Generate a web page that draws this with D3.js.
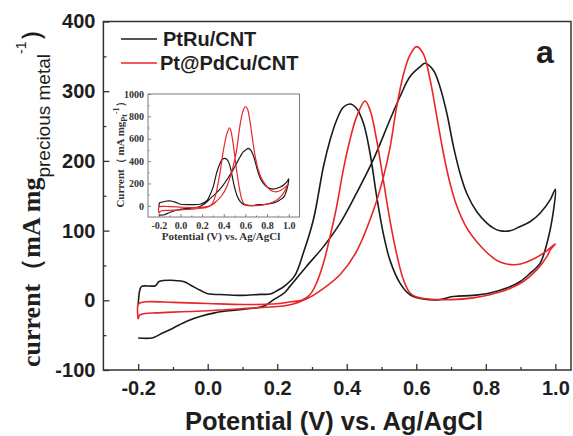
<!DOCTYPE html>
<html>
<head>
<meta charset="utf-8">
<script src="https://cdn.jsdelivr.net/npm/d3@7/dist/d3.min.js"></script>
<style>
html,body{margin:0;padding:0;background:#fff;}
svg{display:block;}
</style>
</head>
<body>
<svg id="chart" width="573" height="436"></svg>
<script>
// ---------------- DATA ----------------
const seriesNames = ["PtRu/CNT", "Pt@PdCu/CNT"];
const mainXTicks = [-0.2, 0.0, 0.2, 0.4, 0.6, 0.8, 1.0];
const mainYTicks = [-100, 0, 100, 200, 300, 400];
const insetXTicks = [-0.2, 0.0, 0.2, 0.4, 0.6, 0.8, 1.0];
const insetYTicks = [0, 200, 400, 600, 800, 1000];

// Main panel: current (mA mg_precious metal^-1) vs potential (V)
const ptruForward = [[-0.2,-54],[-0.16,-54],[-0.13,-47],[-0.1,-40],[-0.06,-30],[-0.02,-23],[0.02,-18],[0.06,-15],[0.11,-12.5],[0.16,-8.7],[0.19,1],[0.22,10.5],[0.2365,20],[0.25,28],[0.284,48.6],[0.333,77],[0.381,110.7],[0.428,153.6],[0.476,201.4],[0.524,258.7],[0.553,292],[0.582,321],[0.611,335],[0.625,340],[0.649,330],[0.668,306.5],[0.688,268],[0.707,220.5],[0.726,182],[0.745,153.6],[0.774,127],[0.803,110.7],[0.822,103.5],[0.841,99.7],[0.87,99.7],[0.899,106],[0.928,113],[0.956,125],[0.985,144],[1.0,159.4]];
const ptruBackward = [[1.0,159.4],[0.995,130],[0.976,82],[0.956,53],[0.928,39],[0.899,27],[0.86,17.5],[0.812,10.4],[0.764,7],[0.72,6],[0.7,5],[0.668,1],[0.62,2],[0.582,8],[0.553,24.7],[0.524,58],[0.505,96],[0.486,149],[0.467,211],[0.448,254],[0.428,275.5],[0.409,281.7],[0.39,277],[0.371,258.7],[0.352,230],[0.333,192],[0.304,115.5],[0.275,67.7],[0.25,35],[0.22,20],[0.2,14],[0.18,9],[0.15,8.5],[0.1,7],[0.05,8],[0.0,9.5],[-0.02,14],[-0.05,22],[-0.07,27],[-0.14,27],[-0.15,21],[-0.19,20],[-0.195,15],[-0.2,-6]];
const ptpdcuForward = [[-0.2,-27],[-0.195,-21],[-0.18,-19],[-0.15,-18],[-0.1,-17],[-0.05,-16],[0.0,-15],[0.05,-13.5],[0.1,-12],[0.15,-10.5],[0.2,-9],[0.23,-7],[0.26,-3],[0.3,6],[0.333,17],[0.381,37],[0.428,70],[0.476,128],[0.505,176],[0.524,218],[0.543,276],[0.563,324],[0.582,352],[0.601,364],[0.62,354],[0.64,316],[0.659,263.5],[0.678,211],[0.697,168],[0.716,136],[0.745,104],[0.774,84],[0.8,70],[0.832,57],[0.86,52],[0.88,51],[0.9,52],[0.928,57],[0.966,67.7],[1.0,81]];
const ptpdcuBackward = [[1.0,81],[0.985,72],[0.976,63],[0.947,44],[0.908,27],[0.86,15],[0.812,8],[0.764,3.5],[0.7,1],[0.64,1.5],[0.601,4.7],[0.582,10.4],[0.563,29.5],[0.543,67.7],[0.524,115.5],[0.505,173],[0.486,230],[0.467,273],[0.4525,286],[0.4285,263.5],[0.409,230],[0.39,187],[0.371,134.6],[0.352,91.6],[0.333,53.4],[0.313,24.7],[0.294,8],[0.27,0],[0.24,-2],[0.2,-5],[0.1,-6],[0.0,-4.5],[-0.1,-3],[-0.17,-2],[-0.19,-3],[-0.2,-6],[-0.2,-27]];

// Inset: current (mA mg_Pt^-1) vs potential (V)
const insetPtruForward = [[-0.2,-82],[-0.16,-82],[-0.1,-60],[-0.02,-35],[0.06,-23],[0.16,-13],[0.22,16],[0.284,73],[0.333,116],[0.381,167],[0.428,232],[0.476,304],[0.524,391],[0.553,441],[0.582,485],[0.611,506],[0.625,513],[0.649,498],[0.668,463],[0.688,405],[0.707,333],[0.726,275],[0.745,232],[0.774,192],[0.803,167],[0.841,151],[0.87,151],[0.899,160],[0.928,171],[0.956,189],[0.985,217],[1.0,241]];
const insetPtruBackward = [[1.0,241],[0.995,196],[0.976,124],[0.956,80],[0.928,59],[0.899,41],[0.86,26],[0.812,16],[0.764,11],[0.7,8],[0.668,2],[0.62,3],[0.582,12],[0.553,37],[0.524,88],[0.505,145],[0.486,225],[0.467,319],[0.448,384],[0.428,416],[0.409,425],[0.39,418],[0.371,391],[0.352,347],[0.333,290],[0.304,174],[0.275,102],[0.25,53],[0.22,30],[0.18,14],[0.1,11],[0.0,14],[-0.05,33],[-0.1,44],[-0.14,41],[-0.17,32],[-0.19,30],[-0.2,-9]];
const insetPtpdcuForward = [[-0.2,-66],[-0.18,-46],[-0.1,-41],[0.0,-37],[0.1,-29],[0.2,-22],[0.26,-7],[0.3,15],[0.333,41],[0.381,90],[0.428,171],[0.476,312],[0.505,429],[0.524,532],[0.543,673],[0.563,791],[0.582,859],[0.601,888],[0.62,864],[0.64,771],[0.659,643],[0.678,515],[0.697,410],[0.716,332],[0.745,254],[0.774,205],[0.8,171],[0.832,139],[0.88,124],[0.928,139],[0.966,165],[1.0,198]];
const insetPtpdcuBackward = [[1.0,198],[0.985,176],[0.976,154],[0.947,107],[0.908,66],[0.86,37],[0.812,20],[0.764,9],[0.7,2],[0.64,4],[0.601,11],[0.582,25],[0.563,72],[0.543,165],[0.524,282],[0.505,422],[0.486,561],[0.467,666],[0.4525,698],[0.4285,643],[0.409,561],[0.39,456],[0.371,328],[0.352,224],[0.333,130],[0.313,60],[0.294,20],[0.27,0],[0.2,-12],[0.1,-15],[0.0,-11],[-0.1,-7],[-0.17,-5],[-0.19,-7],[-0.2,-15],[-0.2,-66]];

// ---------------- DRAW ----------------
const BLACK = "#1b1b1b", RED = "#e8262a", TXT = "#1e1e1e";
const SANS = "'Liberation Sans', Arial, sans-serif";
const SERIF = "'Liberation Serif', 'Times New Roman', serif";
const svg = d3.select("#chart");

const M = {left: 103.4, right: 571, top: 21.5, bottom: 370};
const x = d3.scaleLinear().domain([-0.3, 1.045]).range([M.left, M.right]);
const y = d3.scaleLinear().domain([-100, 400]).range([M.bottom, M.top]);

const fmt1 = d => d.toFixed(1);

// Axes
const xAxis = d3.axisBottom(x).tickValues(mainXTicks).tickFormat(fmt1).tickSize(-6).tickPadding(11);
const gx = svg.append("g").attr("transform", `translate(0,${M.bottom})`).call(xAxis);
const xMinor = d3.axisBottom(x).tickValues(d3.range(-0.1, 1.0, 0.2)).tickFormat("").tickSize(-3);
const gxm = svg.append("g").attr("transform", `translate(0,${M.bottom})`).call(xMinor);
const yAxis = d3.axisLeft(y).tickValues(mainYTicks).tickFormat(d => String(d)).tickSize(-6).tickPadding(8);
const gy = svg.append("g").attr("transform", `translate(${M.left},0)`).call(yAxis);
const yMinor = d3.axisLeft(y).tickValues([-50, 50, 150, 250, 350]).tickFormat("").tickSize(-3);
const gym = svg.append("g").attr("transform", `translate(${M.left},0)`).call(yMinor);
[gx, gxm, gy, gym].forEach(g => {
  g.select(".domain").remove();
  g.selectAll(".tick line").attr("stroke", "#333").attr("stroke-width", 1.3);
  g.selectAll("text").attr("font-family", SANS).attr("font-weight", "bold")
   .attr("font-size", 20).attr("fill", TXT);
});

// Frame
svg.append("rect").attr("x", M.left).attr("y", M.top)
  .attr("width", M.right - M.left).attr("height", M.bottom - M.top)
  .attr("fill", "none").attr("stroke", "#333").attr("stroke-width", 1.5);

// Curves
const line = d3.line().x(d => x(d[0])).y(d => y(d[1])).curve(d3.curveCatmullRom.alpha(0.5));
const mainSeries = [
  {data: ptruForward.concat(ptruBackward.slice(1)), color: BLACK},
  {data: ptpdcuForward.concat(ptpdcuBackward.slice(1)), color: RED}
];
svg.append("g").selectAll("path").data(mainSeries).join("path")
  .attr("d", d => line(d.data)).attr("fill", "none")
  .attr("stroke", d => d.color).attr("stroke-width", 1.6).attr("stroke-linejoin", "round");

// Legend
const legY = [39, 63];
const leg = svg.append("g");
seriesNames.forEach((name, i) => {
  leg.append("line").attr("x1", 121).attr("x2", 157).attr("y1", legY[i]).attr("y2", legY[i])
    .attr("stroke", [BLACK, RED][i]).attr("stroke-width", 1.6);
  leg.append("text").attr("x", i === 0 ? 163 : 160).attr("y", legY[i] + 7)
    .attr("font-family", SANS).attr("font-weight", "bold").attr("font-size", 20)
    .attr("fill", TXT).text(name);
});

// Panel label
svg.append("text").attr("x", 536).attr("y", 63).attr("font-family", SANS)
  .attr("font-weight", "bold").attr("font-size", 32).attr("fill", TXT).text("a");

// X title
svg.append("text").attr("x", 334).attr("y", 430).attr("text-anchor", "middle")
  .attr("font-family", SANS).attr("font-weight", "bold").attr("font-size", 25.5)
  .attr("fill", TXT).text("Potential (V) vs. Ag/AgCl");

// Y title
const yt = svg.append("text").attr("transform", "translate(40,367) rotate(-90)")
  .attr("fill", TXT);
yt.append("tspan").attr("font-family", SERIF).attr("font-weight", "bold").attr("font-size", 26)
  .text("current（mA mg");
yt.append("tspan").attr("font-family", SANS).attr("font-size", 19).attr("dy", 10)
  .text("precious metal");
yt.append("tspan").attr("font-family", SANS).attr("font-size", 14).attr("dy", -24)
  .text("-1");
yt.append("tspan").attr("font-family", SERIF).attr("font-weight", "bold").attr("font-size", 26).attr("dy", 14)
  .text("）");

// ---------------- INSET ----------------
const I = {left: 148, right: 299.5, top: 94, bottom: 217};
const ix = d3.scaleLinear().domain([-0.3, 1.1]).range([I.left, I.right]);
const iy = d3.scaleLinear().domain([-100, 1000]).range([I.bottom, I.top]);
svg.append("rect").attr("x", I.left).attr("y", I.top).attr("width", I.right - I.left)
  .attr("height", I.bottom - I.top).attr("fill", "#fff");

const ixAxis = d3.axisBottom(ix).tickValues(insetXTicks).tickFormat(fmt1).tickSize(-3).tickPadding(5);
const gix = svg.append("g").attr("transform", `translate(0,${I.bottom})`).call(ixAxis);
const ixMinor = d3.axisBottom(ix).tickValues(d3.range(-0.1, 1.0, 0.2)).tickFormat("").tickSize(-1.5);
const gixm = svg.append("g").attr("transform", `translate(0,${I.bottom})`).call(ixMinor);
const iyAxis = d3.axisLeft(iy).tickValues(insetYTicks).tickFormat(d => String(d)).tickSize(-3).tickPadding(4);
const giy = svg.append("g").attr("transform", `translate(${I.left},0)`).call(iyAxis);
const iyMinor = d3.axisLeft(iy).tickValues([100, 300, 500, 700, 900]).tickFormat("").tickSize(-1.5);
const giym = svg.append("g").attr("transform", `translate(${I.left},0)`).call(iyMinor);
[gix, gixm, giy, giym].forEach(g => {
  g.select(".domain").remove();
  g.selectAll(".tick line").attr("stroke", "#666").attr("stroke-width", 0.8);
  g.selectAll("text").attr("font-family", SERIF).attr("font-weight", "bold")
   .attr("font-size", 10).attr("fill", "#333");
});
svg.append("rect").attr("x", I.left).attr("y", I.top).attr("width", I.right - I.left)
  .attr("height", I.bottom - I.top).attr("fill", "none").attr("stroke", "#7a7a7a").attr("stroke-width", 1);

const iline = d3.line().x(d => ix(d[0])).y(d => iy(d[1])).curve(d3.curveCatmullRom.alpha(0.5));
const insetSeries = [
  {data: insetPtruForward.concat(insetPtruBackward.slice(1)), color: BLACK},
  {data: insetPtpdcuForward.concat(insetPtpdcuBackward.slice(1)), color: RED}
];
svg.append("g").selectAll("path").data(insetSeries).join("path")
  .attr("d", d => iline(d.data)).attr("fill", "none")
  .attr("stroke", d => d.color).attr("stroke-width", 1.2).attr("stroke-linejoin", "round");

svg.append("text").attr("x", 221).attr("y", 240).attr("text-anchor", "middle")
  .attr("font-family", SERIF).attr("font-weight", "bold").attr("font-size", 11)
  .attr("fill", "#333").text("Potential (V) vs. Ag/AgCl");

const iyt = svg.append("text").attr("transform", "translate(124,152) rotate(-90)")
  .attr("text-anchor", "middle").attr("fill", "#333")
  .attr("font-family", SERIF).attr("font-weight", "bold").attr("font-size", 11);
iyt.append("tspan").text("Current（ mA mg");
iyt.append("tspan").attr("font-size", 8).attr("dy", 3).text("Pt");
iyt.append("tspan").attr("font-size", 8).attr("dy", -8).text("-1");
iyt.append("tspan").attr("dy", 5).text("）");
</script>
</body>
</html>
